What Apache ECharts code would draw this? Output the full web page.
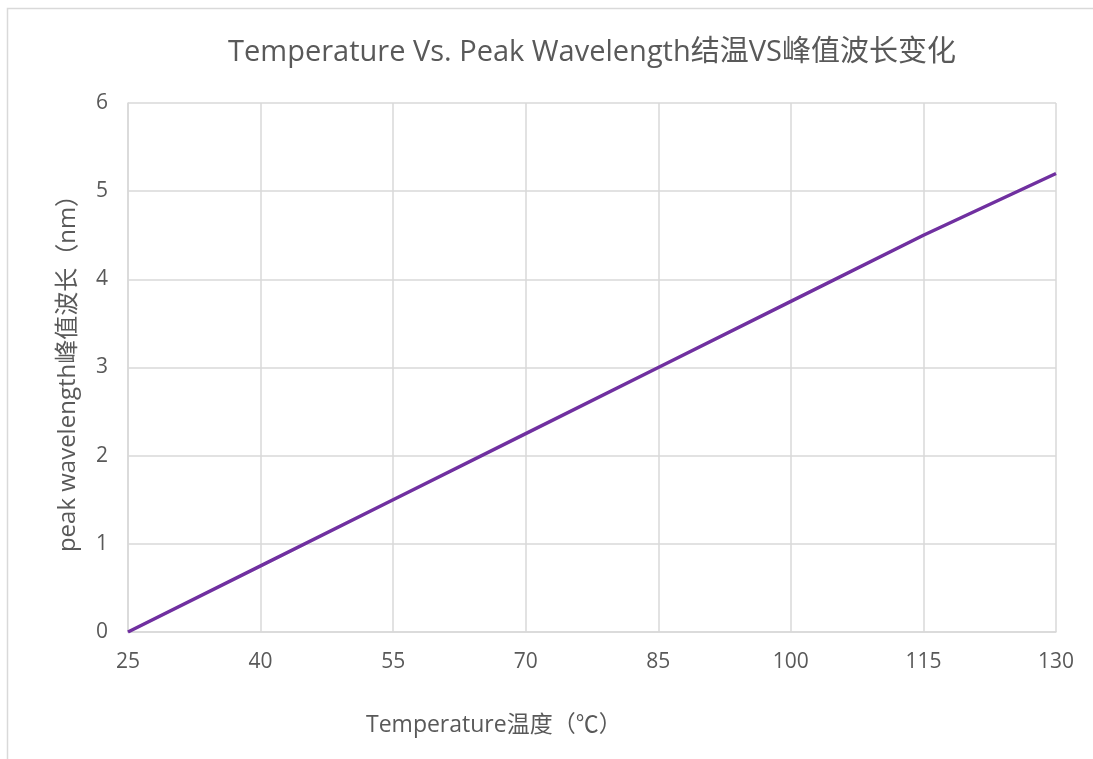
<!DOCTYPE html>
<html>
<head>
<meta charset="utf-8">
<script src="https://cdn.jsdelivr.net/npm/echarts@6/dist/echarts.min.js"></script>
<style>
html,body{margin:0;padding:0;background:#fff;}
#chart{width:1093px;height:759px;}
</style>
</head>
<body>
<div id="chart"></div>
<script>
const temperatures = [25, 40, 55, 70, 85, 100, 115, 130];
const peakShift = [0, 0.75, 1.5, 2.25, 3.0, 3.75, 4.5, 5.2];
const titleText = 'Temperature Vs. Peak Wavelength结温VS峰值波长变化';
const xName = 'Temperature温度（℃）';
const yName = 'peak wavelength峰值波长（nm）';

const font = '"Open Sans", "Noto Sans CJK SC", sans-serif';
const chart = echarts.init(document.getElementById('chart'));
chart.setOption({
  backgroundColor: '#fff',
  animation: false,
  title: {
    text: titleText,
    left: 587, top: 33, textAlign: 'center',
    textStyle: { fontFamily: font, fontSize: 29, fontWeight: 'normal', color: '#595959' }
  },
  graphic: [
    { type: 'rect', shape: { x: 7.5, y: 8.5, width: 1100, height: 800 },
      style: { fill: 'none', stroke: '#d9d9d9', lineWidth: 1.5 }, silent: true },
    { type: 'text', left: 366, top: 714,
      style: { text: xName, font: '23px ' + font, fill: '#595959' } }
  ],
  grid: { left: 128, right: 37, top: 103, bottom: 127 },
  xAxis: {
    type: 'value', min: 25, max: 130, interval: 15,
    axisLine: { show: true, lineStyle: { color: '#d9d9d9', width: 1.5 } },
    axisTick: { show: false },
    axisLabel: { fontFamily: font, fontSize: 21, color: '#595959', margin: 20 },
    splitLine: { show: true, lineStyle: { color: '#d9d9d9', width: 1.5 } }
  },
  yAxis: {
    type: 'value', min: 0, max: 6, interval: 1,
    name: yName, nameLocation: 'middle', nameGap: 48,
    nameTextStyle: { fontFamily: font, fontSize: 24, color: '#595959' },
    axisLine: { show: true, lineStyle: { color: '#d9d9d9', width: 1.5 } },
    axisTick: { show: false },
    axisLabel: { fontFamily: font, fontSize: 21, color: '#595959', margin: 20 },
    splitLine: { show: true, lineStyle: { color: '#d9d9d9', width: 1.5 } }
  },
  series: [{
    type: 'line',
    data: temperatures.map((t, i) => [t, peakShift[i]]),
    showSymbol: false,
    lineStyle: { color: '#7030A0', width: 3.5 },
    itemStyle: { color: '#7030A0' }
  }]
});
</script>
</body>
</html>
